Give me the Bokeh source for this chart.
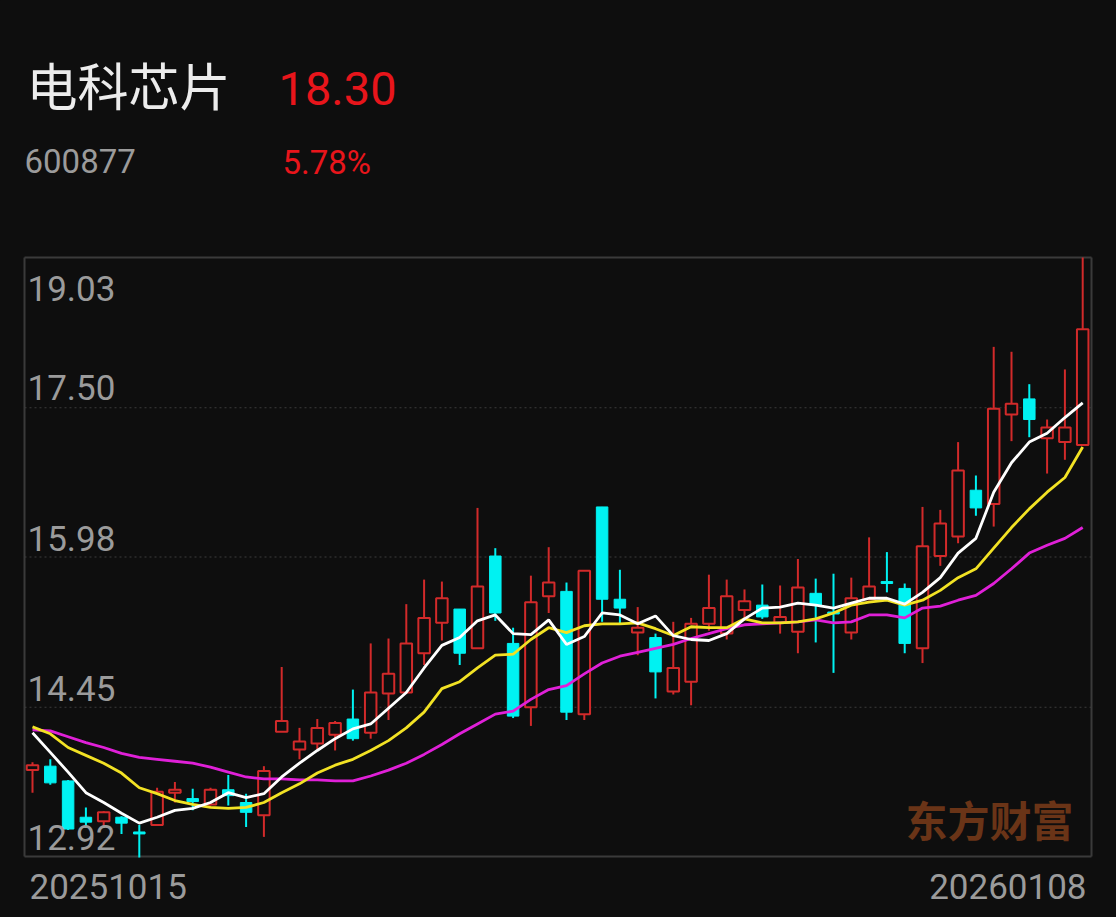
import numpy as np
from bokeh.plotting import figure
from bokeh.models import ColumnDataSource, Range1d, GlobalInlineStyleSheet
from bokeh.core.properties import value
from bokeh.embed import file_html
from bokeh.resources import INLINE

# ---------------- data ----------------
stock_name = "电科芯片"
stock_code = "600877"
last_price = "18.30"
change_pct = "5.78%"
date_start = "20251015"
date_end = "20260108"
watermark = "东方财富"
y_ticks = [19.03, 17.50, 15.98, 14.45, 12.92]

opens = [13.81, 13.85, 13.70, 13.33, 13.29, 13.33, 13.18, 13.25, 13.58, 13.52,
         13.46, 13.61, 13.48, 13.35, 14.20, 14.02, 14.08, 14.17, 14.33, 14.19,
         14.59, 14.60, 15.00, 15.31, 15.45, 15.05, 15.99, 15.10, 14.45, 15.58,
         15.63, 14.38, 16.49, 15.55, 15.21, 15.16, 14.61, 14.71, 15.30, 15.20,
         15.44, 15.49, 15.31, 15.22, 15.61, 15.42, 15.21, 15.55, 15.73, 15.66,
         15.05, 15.99, 16.19, 16.66, 16.52, 17.43, 17.59, 17.19, 17.15, 17.12]
highs = [13.89, 13.92, 13.71, 13.43, 13.39, 13.34, 13.25, 13.63, 13.69, 13.62,
         13.63, 13.76, 13.57, 13.85, 14.86, 14.24, 14.33, 14.31, 14.63, 15.10,
         15.15, 15.50, 15.75, 15.73, 15.45, 16.48, 16.07, 15.26, 15.79, 16.08,
         15.72, 15.84, 16.49, 15.85, 15.47, 15.20, 15.32, 15.36, 15.80, 15.75,
         15.65, 15.70, 15.69, 15.96, 15.76, 15.81, 15.77, 16.18, 16.03, 15.71,
         16.49, 16.46, 17.15, 16.81, 18.12, 18.07, 17.74, 17.38, 17.89, 19.03]
lows = [13.58, 13.66, 13.20, 13.22, 13.23, 13.16, 12.92, 13.24, 13.48, 13.40,
        13.45, 13.45, 13.23, 13.13, 14.20, 13.92, 14.02, 14.01, 14.11, 14.13,
        14.32, 14.59, 14.88, 15.13, 14.88, 15.05, 15.33, 14.34, 14.26, 15.41,
        14.32, 14.32, 15.32, 15.30, 14.98, 14.54, 14.58, 14.47, 15.23, 15.14,
        15.36, 15.35, 15.20, 15.00, 15.11, 14.80, 15.14, 15.54, 15.62, 15.00,
        14.90, 15.89, 16.12, 16.40, 16.29, 17.16, 17.20, 16.83, 16.97, 17.12]
closes = [13.86, 13.68, 13.21, 13.28, 13.38, 13.27, 13.16, 13.59, 13.61, 13.49,
          13.61, 13.55, 13.38, 13.80, 14.31, 14.10, 14.24, 14.29, 14.13, 14.60,
          14.79, 15.10, 15.36, 15.56, 15.00, 15.68, 15.41, 14.36, 15.52, 15.72,
          14.40, 15.84, 15.55, 15.46, 15.26, 14.81, 14.85, 15.30, 15.46, 15.58,
          15.53, 15.37, 15.37, 15.67, 15.49, 15.40, 15.56, 15.68, 15.71, 15.10,
          16.09, 16.32, 16.86, 16.48, 17.49, 17.54, 17.38, 17.30, 17.30, 18.30]

ma5 = [14.19, 13.99, 13.79, 13.58, 13.48, 13.37, 13.27, 13.33, 13.40, 13.42,
       13.48, 13.58, 13.53, 13.57, 13.74, 13.88, 14.01, 14.13, 14.23, 14.28,
       14.44, 14.60, 14.85, 15.08, 15.16, 15.33, 15.39, 15.20, 15.19, 15.34,
       15.09, 15.17, 15.41, 15.39, 15.30, 15.38, 15.18, 15.14, 15.13, 15.20,
       15.35, 15.46, 15.47, 15.51, 15.49, 15.46, 15.51, 15.56, 15.56, 15.50,
       15.62, 15.77, 16.02, 16.17, 16.64, 16.94, 17.15, 17.24, 17.40, 17.55]
ma10 = [14.25, 14.18, 14.04, 13.96, 13.88, 13.78, 13.63, 13.57, 13.50, 13.46,
        13.43, 13.42, 13.43, 13.48, 13.58, 13.67, 13.78, 13.86, 13.92, 14.01,
        14.11, 14.24, 14.40, 14.64, 14.71, 14.85, 14.98, 14.99, 15.14, 15.26,
        15.21, 15.28, 15.30, 15.30, 15.31, 15.25, 15.18, 15.27, 15.26, 15.26,
        15.35, 15.31, 15.31, 15.32, 15.35, 15.41, 15.49, 15.52, 15.54, 15.49,
        15.54, 15.64, 15.77, 15.86, 16.07, 16.28, 16.47, 16.64, 16.79, 17.10]
ma20 = [14.22, 14.21, 14.15, 14.09, 14.04, 13.98, 13.94, 13.92, 13.90, 13.88,
        13.84, 13.79, 13.74, 13.72, 13.72, 13.71, 13.71, 13.70, 13.70, 13.75,
        13.81, 13.88, 13.97, 14.07, 14.18, 14.28, 14.38, 14.41, 14.53, 14.63,
        14.67, 14.79, 14.90, 14.97, 15.01, 15.05, 15.09, 15.15, 15.20, 15.25,
        15.29, 15.30, 15.31, 15.32, 15.34, 15.31, 15.32, 15.39, 15.39, 15.36,
        15.46, 15.48, 15.54, 15.59, 15.71, 15.86, 16.02, 16.10, 16.17, 16.28]

# ---------------- styling / layout ----------------
BG = "#0e0e0e"
RED = "#d22a2a"
CYAN = "#00f2f2"
TXT_RED = "#e8151b"
GREY = "#9b9b9b"
FRAME = "#3a3a3a"

W, H = 1116, 917
OFF = 0                 # page origin of the figure (body margin removed)
X0, DX = 32.0, 17.8     # page x of first candle, spacing
Y_TOP, P_TOP = 257.0, y_ticks[0]
PX_PER = 600.0 / (y_ticks[0] - y_ticks[-1])


def px(xpage):
    return (xpage - X0) / DX


def py(ypage):
    return P_TOP - (ypage - Y_TOP) / PX_PER


p = figure(width=W, height=H, output_backend="svg", toolbar_location=None,
           x_range=Range1d(px(OFF), px(OFF + W)),
           y_range=Range1d(py(OFF + H), py(OFF)),
           x_axis_location=None, y_axis_location=None, min_border=0)
p.background_fill_color = BG
p.border_fill_color = BG
p.outline_line_color = None
p.grid.visible = False
p.stylesheets = [GlobalInlineStyleSheet(
    css=f"html, body {{ background: {BG}; margin: 0; padding: 0; overflow: hidden; }}")]

# frame
fl, fr, ft, fb = px(24), px(1091), py(257), py(856)
p.segment(x0=[fl, fl, fr, fl], y0=[ft, ft, ft, fb], x1=[fl, fr, fr, fr], y1=[fb, ft, fb, fb],
          line_color=FRAME, line_width=2)

# grid lines
mids = y_ticks[1:-1]
p.segment(x0=[fl] * len(mids), x1=[fr] * len(mids), y0=mids, y1=mids,
          line_color="#3c3c3c", line_width=1, line_dash="2 3")

# candles
n = len(closes)
idx = np.arange(n)
o = np.array(opens); c = np.array(closes); hi = np.array(highs); lo = np.array(lows)
up = c >= o
top = np.maximum(o, c); bot = np.minimum(o, c)
bot = np.where(top - bot < 0.02, top - 0.02, bot)

src_up = ColumnDataSource(dict(x=idx[up], h=hi[up], l=lo[up], t=top[up], b=bot[up]))
src_dn = ColumnDataSource(dict(x=idx[~up], h=hi[~up], l=lo[~up], t=top[~up], b=bot[~up]))
BW = 11.5 / DX
p.segment(x0="x", x1="x", y0="h", y1="l", source=src_dn, line_color=CYAN, line_width=2)
p.vbar(x="x", top="t", bottom="b", width=BW, source=src_dn, fill_color=CYAN, line_color=CYAN, line_width=1)
p.segment(x0="x", x1="x", y0="h", y1="l", source=src_up, line_color=RED, line_width=2)
p.vbar(x="x", top="t", bottom="b", width=BW, source=src_up, fill_color=BG, line_color=RED, line_width=2)

# moving averages
p.line(idx, ma20, line_color="#e020d8", line_width=2.8)
p.line(idx, ma10, line_color="#f2e224", line_width=2.8)
p.line(idx, ma5, line_color="#ffffff", line_width=2.8)

NUM_FONT = value("Roboto")
CJK_FONT = value("Noto Sans CJK SC")


def top_text(xp, yp, txt, size, color, align="left", font=NUM_FONT):
    p.text(x=[px(xp)], y=[py(yp)], text=[txt], text_baseline="top", text_align=align,
           text_font=font, text_font_size=f"{size}px", text_color=color)


# y tick labels (glyph tops relative to the tick lines)
label_tops = [275, 374, 525, 675, 824]
for v, t in zip(y_ticks, label_tops):
    top_text(27, t, f"{v:.2f}", 35, GREY)

# date labels
top_text(29, 873, date_start, 35, GREY)
top_text(1086, 873, date_end, 35, GREY, align="right")

# header
p.text(x=[px(26)], y=[py(83)], text=[stock_name], text_baseline="middle", text_align="left",
       text_font=CJK_FONT, text_font_size="51px", text_color="#ececec")
top_text(278, 71, last_price, 47, TXT_RED)
top_text(24, 148, stock_code, 33, GREY)
top_text(282, 142, change_pct, 33, TXT_RED)

# watermark
p.text(x=[px(989)], y=[py(818)], text=[watermark], text_baseline="middle", text_align="center",
       text_font=CJK_FONT, text_font_size="42px", text_font_style="bold", text_color="#6a3417")

open("out.html", "w").write(file_html(p, INLINE))
